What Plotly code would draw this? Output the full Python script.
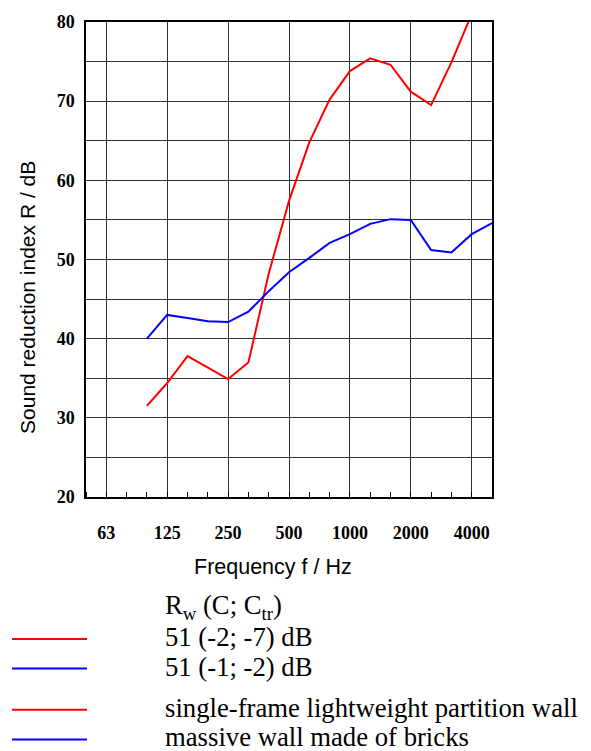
import plotly.graph_objects as go

# Third-octave band centre frequencies (x-axis categories, Hz)
bands = ["50", "63", "80", "100", "125", "160", "200", "250", "315", "400", "500",
         "630", "800", "1000", "1250", "1600", "2000", "2500", "3150", "4000", "5000"]
octave_labels = ["63", "125", "250", "500", "1000", "2000", "4000"]

# Single-frame lightweight partition wall (red)
red_freq = ["100", "125", "160", "200", "250", "315", "400", "500", "630", "800",
            "1000", "1250", "1600", "2000", "2500", "3150", "4000"]
red_R = [31.5, 34.4, 37.8, 36.4, 34.9, 37.0, 48.2, 57.4, 64.8, 70.2,
         73.8, 75.4, 74.6, 71.2, 69.5, 74.9, 81.0]

# Massive wall made of bricks (blue)
blue_freq = ["100", "125", "160", "200", "250", "315", "400", "500", "630", "800",
             "1000", "1250", "1600", "2000", "2500", "3150", "4000", "5000"]
blue_R = [40.0, 43.0, 42.6, 42.2, 42.1, 43.4, 46.0, 48.4, 50.2, 52.1,
          53.2, 54.5, 55.1, 55.0, 51.2, 50.9, 53.2, 54.6]

y_labels = [20, 30, 40, 50, 60, 70, 80]
y_grid = list(range(20, 81, 5))

W, H = 591, 751
L, R_, T, B = 86, 492, 15, 497

def px(x):
    return (x - L) / (R_ - L)

def py(y):
    return (B - y) / (B - T)

fig = go.Figure()
fig.add_trace(go.Scatter(x=[bands.index(f) for f in red_freq], y=red_R, mode="lines",
                         line=dict(color="#ff0000", width=2), showlegend=False))
fig.add_trace(go.Scatter(x=[bands.index(f) for f in blue_freq], y=blue_R, mode="lines",
                         line=dict(color="#0000ff", width=2), showlegend=False))

tick_font = dict(family="Liberation Serif", size=18, color="black", weight="bold")
grid_col = "#333333"

fig.update_layout(
    width=W, height=H,
    margin=dict(l=L, r=W - R_, t=T, b=H - B),
    paper_bgcolor="white", plot_bgcolor="white",
    xaxis=dict(range=[0, len(bands) - 1],
               tickvals=[bands.index(b) for b in octave_labels], ticktext=octave_labels,
               ticks="", showgrid=True, gridcolor=grid_col, gridwidth=1.4,
               showline=True, linecolor="black", linewidth=1.5, mirror=True,
               zeroline=False, tickfont=tick_font, ticklabelstandoff=19,
               minor=dict(tickvals=list(range(len(bands))), ticks="inside", ticklen=5,
                          tickcolor="black", tickwidth=1, showgrid=False)),
    yaxis=dict(range=[20, 80], tickvals=y_labels, ticktext=[str(v) for v in y_labels],
               ticks="", showgrid=True, gridcolor=grid_col, gridwidth=1.4,
               showline=True, linecolor="black", linewidth=1.5, mirror=True,
               zeroline=False, tickfont=tick_font, ticklabelstandoff=6,
               minor=dict(tickvals=y_grid, ticks="", showgrid=True,
                          gridcolor=grid_col, gridwidth=1.4)),
)

ann = []
ann.append(dict(text="Sound reduction index R / dB", x=px(28), y=py(295), xref="paper", yref="paper",
                textangle=-90, showarrow=False, xanchor="center", yanchor="middle",
                font=dict(family="Liberation Sans", size=21, color="black")))
ann.append(dict(text="Frequency f / Hz", x=px(273), y=py(568), xref="paper", yref="paper",
                showarrow=False, xanchor="center", yanchor="middle",
                font=dict(family="Liberation Sans", size=21.5, color="black")))

leg_font = dict(family="Liberation Serif", size=26.7, color="black")
legend_rows = [
    ("R<sub>w</sub> (C; C<sub>tr</sub>)", 609, None),
    ("51 (-2; -7) dB", 639, "#ff0000"),
    ("51 (-1; -2) dB", 669, "#0000ff"),
    ("single-frame lightweight partition wall", 711, "#ff0000"),
    ("massive wall made of bricks", 741, "#0000ff"),
]
shapes = []
for text, yy, col in legend_rows:
    ann.append(dict(text=text, x=px(163), y=py(yy), xref="paper", yref="paper",
                    showarrow=False, xanchor="left", yanchor="middle", font=leg_font))
    if col:
        ly = yy + 2
        shapes.append(dict(type="line", xref="paper", yref="paper",
                           x0=px(12), x1=px(87), y0=py(ly), y1=py(ly),
                           line=dict(color=col, width=2)))

fig.update_layout(annotations=ann, shapes=shapes)
fig.write_html("out.html")
